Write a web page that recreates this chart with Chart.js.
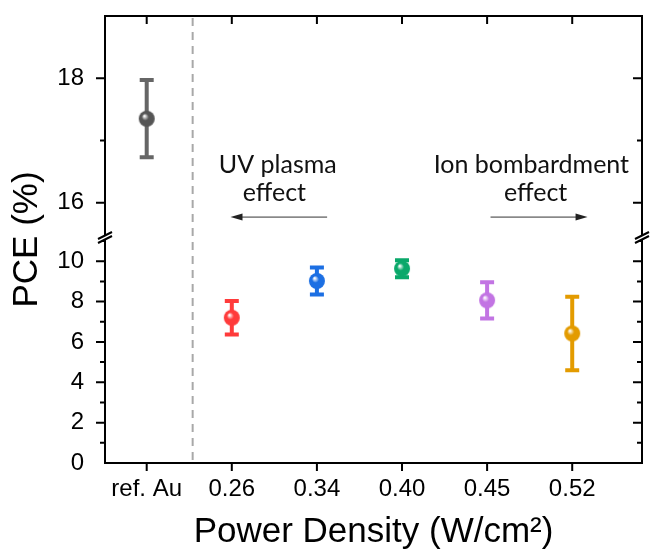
<!DOCTYPE html>
<html>
<head>
<meta charset="utf-8">
<script src="https://cdn.jsdelivr.net/npm/chart.js@4"></script>
<style>
  html, body { margin: 0; padding: 0; background: #fff; }
  #wrap { width: 651px; height: 550px; }
</style>
</head>
<body>
<div id="wrap"><canvas id="pce"></canvas></div>
<script>
// categories along the x axis
const categories = ['ref. Au', '0.26', '0.34', '0.40', '0.45', '0.52'];
// PCE values (%) and their error (half length of bar)
const pceValues = [17.35, 7.2, 9.02, 9.63, 8.06, 6.42];
const pceErrors = [0.62, 0.83, 0.67, 0.42, 0.9, 1.82];
const pointColors = ['#555555', '#ff3b3b', '#1c6fe3', '#0aa86a', '#c274e3', '#e39b00'];
const lowTicks = [0, 2, 4, 6, 8, 10];
const highTicks = [16, 18];

const FONT = "'Liberation Sans', Arial, sans-serif";

function sphere(color, r) {
    const c = document.createElement('canvas');
    c.width = c.height = r * 2 + 2;
    const g = c.getContext('2d');
    const cx = r + 1, cy = r + 1;
    const grad = g.createRadialGradient(cx - r * 0.3, cy - r * 0.35, 0.5, cx, cy, r);
    grad.addColorStop(0, '#ffffff');
    grad.addColorStop(0.4, color);
    grad.addColorStop(1, color);
    g.fillStyle = grad;
    g.beginPath();
    g.arc(cx, cy, r, 0, Math.PI * 2);
    g.fill();
    return c;
}

const highData = [], lowData = [], highIdx = [], lowIdx = [];
pceValues.forEach((v, i) => {
    if (v > 12) { highData.push({x: i, y: v}); highIdx.push(i); }
    else { lowData.push({x: i, y: v}); lowIdx.push(i); }
});

function noPad(s) {
    s.paddingTop = 0; s.paddingBottom = 0;
    s.paddingLeft = 0; s.paddingRight = 0;
}

const frame = {
    id: 'frame',
    beforeDatasetsDraw(chart) {
        const ctx = chart.ctx, a = chart.chartArea, x = chart.scales.x;
        // dashed separator after the reference
        const dx = x.getPixelForValue(0.54);
        ctx.save();
        ctx.strokeStyle = '#a8a8a8';
        ctx.lineWidth = 2;
        ctx.setLineDash([8, 6]);
        ctx.beginPath();
        ctx.moveTo(dx, a.top + 2);
        ctx.lineTo(dx, a.bottom);
        ctx.stroke();
        ctx.setLineDash([]);
        // error bars
        chart.data.datasets.forEach((ds, d) => {
            const ys = chart.scales[ds.yAxisID];
            ds.data.forEach((p, k) => {
                const i = ds.idx[k];
                const px = x.getPixelForValue(p.x);
                const t = ys.getPixelForValue(p.y + pceErrors[i]);
                const b = ys.getPixelForValue(p.y - pceErrors[i]);
                ctx.strokeStyle = i === 0 ? '#666666' : pointColors[i];
                ctx.lineWidth = 4;
                ctx.beginPath();
                ctx.moveTo(px, t); ctx.lineTo(px, b);
                ctx.moveTo(px - 7, t); ctx.lineTo(px + 7, t);
                ctx.moveTo(px - 7, b); ctx.lineTo(px + 7, b);
                ctx.stroke();
            });
        });
        ctx.restore();
    },
    afterDraw(chart) {
        const ctx = chart.ctx, a = chart.chartArea, x = chart.scales.x;
        const lo = chart.scales.yLow, hi = chart.scales.yHigh;
        ctx.save();
        ctx.strokeStyle = '#000';
        ctx.lineWidth = 2;
        ctx.strokeRect(a.left, a.top, a.right - a.left, a.bottom - a.top);
        ctx.beginPath();
        // x ticks: outward at bottom, inward at top
        for (let i = 0; i < categories.length; i++) {
            const px = x.getPixelForValue(i);
            ctx.moveTo(px, a.bottom); ctx.lineTo(px, a.bottom + 8);
            ctx.moveTo(px, a.top); ctx.lineTo(px, a.top + 8);
        }
        // y ticks, major + minor
        const yt = (s, v, major) => {
            const py = s.getPixelForValue(v), len = major ? 9 : 5;
            ctx.moveTo(a.left, py); ctx.lineTo(a.left - len, py);
            ctx.moveTo(a.right, py); ctx.lineTo(a.right - len, py);
        };
        for (let v = 1; v <= 11; v++) yt(lo, v, v % 2 === 0);
        for (let v = 16; v <= 18; v++) yt(hi, v, v % 2 === 0);
        ctx.stroke();
        // axis breaks
        const by = lo.top;
        [a.left, a.right].forEach(bx => {
            ctx.fillStyle = '#fff';
            ctx.beginPath();
            ctx.moveTo(bx - 7, by + 2); ctx.lineTo(bx + 7, by - 5);
            ctx.lineTo(bx + 7, by - 1); ctx.lineTo(bx - 7, by + 6);
            ctx.closePath();
            ctx.fill();
            ctx.beginPath();
            ctx.moveTo(bx - 7, by + 2); ctx.lineTo(bx + 7, by - 5);
            ctx.moveTo(bx - 7, by + 6); ctx.lineTo(bx + 7, by - 1);
            ctx.stroke();
        });
        // y title
        ctx.fillStyle = '#000';
        ctx.font = '35px ' + FONT;
        ctx.textAlign = 'center';
        ctx.textBaseline = 'middle';
        ctx.translate(27, (a.top + a.bottom) / 2);
        ctx.rotate(-Math.PI / 2);
        ctx.fillText('PCE (%)', 0, 0);
        ctx.restore();

        // annotations with arrows
        ctx.save();
        ctx.fillStyle = '#111';
        ctx.font = "25px Lato, 'Open Sans', sans-serif";
        ctx.textAlign = 'center';
        ctx.textBaseline = 'middle';
        ctx.fillText('UV plasma', x.getPixelForValue(1.54), hi.getPixelForValue(16.6));
        ctx.fillText('effect', x.getPixelForValue(1.50), hi.getPixelForValue(16.16));
        ctx.fillText('Ion bombardment', x.getPixelForValue(4.52), hi.getPixelForValue(16.6));
        ctx.fillText('effect', x.getPixelForValue(4.57), hi.getPixelForValue(16.16));
        const arrow = (from, to) => {
            const ay = hi.getPixelForValue(15.77);
            const x0 = x.getPixelForValue(from), x1 = x.getPixelForValue(to);
            const dir = Math.sign(x1 - x0);
            ctx.strokeStyle = '#333';
            ctx.lineWidth = 1;
            ctx.beginPath();
            ctx.moveTo(x0, ay); ctx.lineTo(x1 - dir * 10, ay);
            ctx.stroke();
            ctx.fillStyle = '#222';
            ctx.beginPath();
            ctx.moveTo(x1, ay);
            ctx.lineTo(x1 - dir * 12, ay - 3.5);
            ctx.lineTo(x1 - dir * 12, ay + 3.5);
            ctx.closePath();
            ctx.fill();
        };
        arrow(2.12, 0.985);
        arrow(4.04, 5.18);
        ctx.restore();
    }
};

const yCommon = {
    type: 'linear',
    position: 'left',
    stack: 'pce',
    grid: { display: false },
    border: { display: false },
    ticks: { color: '#000', font: { family: FONT, size: 24 }, padding: 13, autoSkip: false },
    afterFit(s) { s.width = 62; noPad(s); }
};

new Chart(document.getElementById('pce'), {
    type: 'scatter',
    data: {
        datasets: [
            {
                data: highData, idx: highIdx, yAxisID: 'yHigh',
                pointStyle: highIdx.map(i => sphere(pointColors[i], 8)),
                pointRadius: 8
            },
            {
                data: lowData, idx: lowIdx, yAxisID: 'yLow',
                pointStyle: lowIdx.map(i => sphere(pointColors[i], 8)),
                pointRadius: 8
            }
        ]
    },
    options: {
        responsive: true,
        maintainAspectRatio: false,
        animation: false,
        events: [],
        layout: { padding: { top: 16, right: 7, left: 43, bottom: 0 } },
        plugins: { legend: { display: false }, tooltip: { enabled: false } },
        scales: {
            x: {
                type: 'linear',
                min: -0.49,
                max: 5.82,
                grid: { display: false },
                border: { display: false },
                afterBuildTicks(s) { s.ticks = categories.map((_, i) => ({ value: i })); },
                afterFit(s) { s.height = 87; noPad(s); },
                ticks: {
                    color: '#000',
                    font: { family: FONT, size: 24 },
                    padding: 4,
                    maxRotation: 0,
                    autoSkip: false,
                    callback: v => categories[v]
                },
                title: {
                    display: true,
                    text: 'Power Density (W/cm²)',
                    color: '#000',
                    font: { family: FONT, size: 35, lineHeight: 1 },
                    padding: { top: 2, bottom: 0 }
                }
            },
            yLow: Object.assign({}, yCommon, {
                min: 0, max: 11.2, stackWeight: 226,
                afterBuildTicks(s) { s.ticks = lowTicks.map(v => ({ value: v })); }
            }),
            yHigh: Object.assign({}, yCommon, {
                min: 15.45, max: 19, stackWeight: 221,
                afterBuildTicks(s) { s.ticks = highTicks.map(v => ({ value: v })); }
            })
        }
    },
    plugins: [frame]
});
</script>
</body>
</html>
